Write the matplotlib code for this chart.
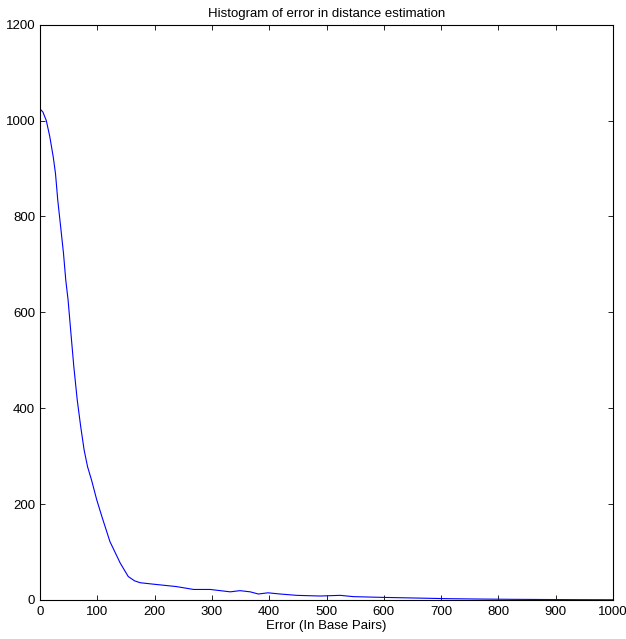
import matplotlib
matplotlib.use("Agg")
import matplotlib.pyplot as plt

error_bp = [0, 1, 5, 11, 17, 23, 27, 31, 36, 41, 45, 49, 54, 59, 65, 71, 77, 83, 90, 99,
            108, 122, 140, 154, 165, 175, 198, 238, 268, 297, 332, 349, 367, 381, 398,
            419, 448, 489, 524, 547, 593, 652, 710, 768, 826, 884, 940, 1000]
counts = [1028, 1023, 1018, 1000, 967, 925, 890, 834, 779, 723, 667, 626, 556, 487, 417,
          362, 313, 278, 250, 209, 174, 122, 77, 49, 40, 36, 33, 28, 22, 22, 17, 19.5,
          17, 12.5, 15, 12.5, 9.7, 8.3, 9.7, 7, 5.6, 4.2, 2.8, 2, 1.4, 1, 0.7, 0.5]

xticks = list(range(0, 1001, 100))
yticks = list(range(0, 1201, 200))

plt.rcParams['font.family'] = ['Liberation Sans', 'DejaVu Sans']

fig = plt.figure(figsize=(6.26, 6.39), dpi=100)
ax = fig.add_axes([40/626, 39/639, (613-40)/626, (600-24.7)/639])
ax.plot(error_bp, counts, color=(0, 0, 1), linewidth=0.8)
ax.set_xlim(0, 1000)
ax.set_ylim(0, 1200)
ax.set_xticks(xticks)
ax.set_yticks(yticks)
ax.tick_params(direction='in', top=True, right=True, length=3.6, width=0.6,
               labelsize=9.5)
ax.tick_params(axis='x', pad=4)
ax.tick_params(axis='y', pad=3.5)
for s in ax.spines.values():
    s.set_linewidth(0.8)
ax.set_title("Histogram of error in distance estimation", fontsize=9.5, pad=5.5)
ax.set_xlabel("Error (In Base Pairs)", fontsize=9.5, labelpad=2)
fig.savefig("out.png", dpi=100)
